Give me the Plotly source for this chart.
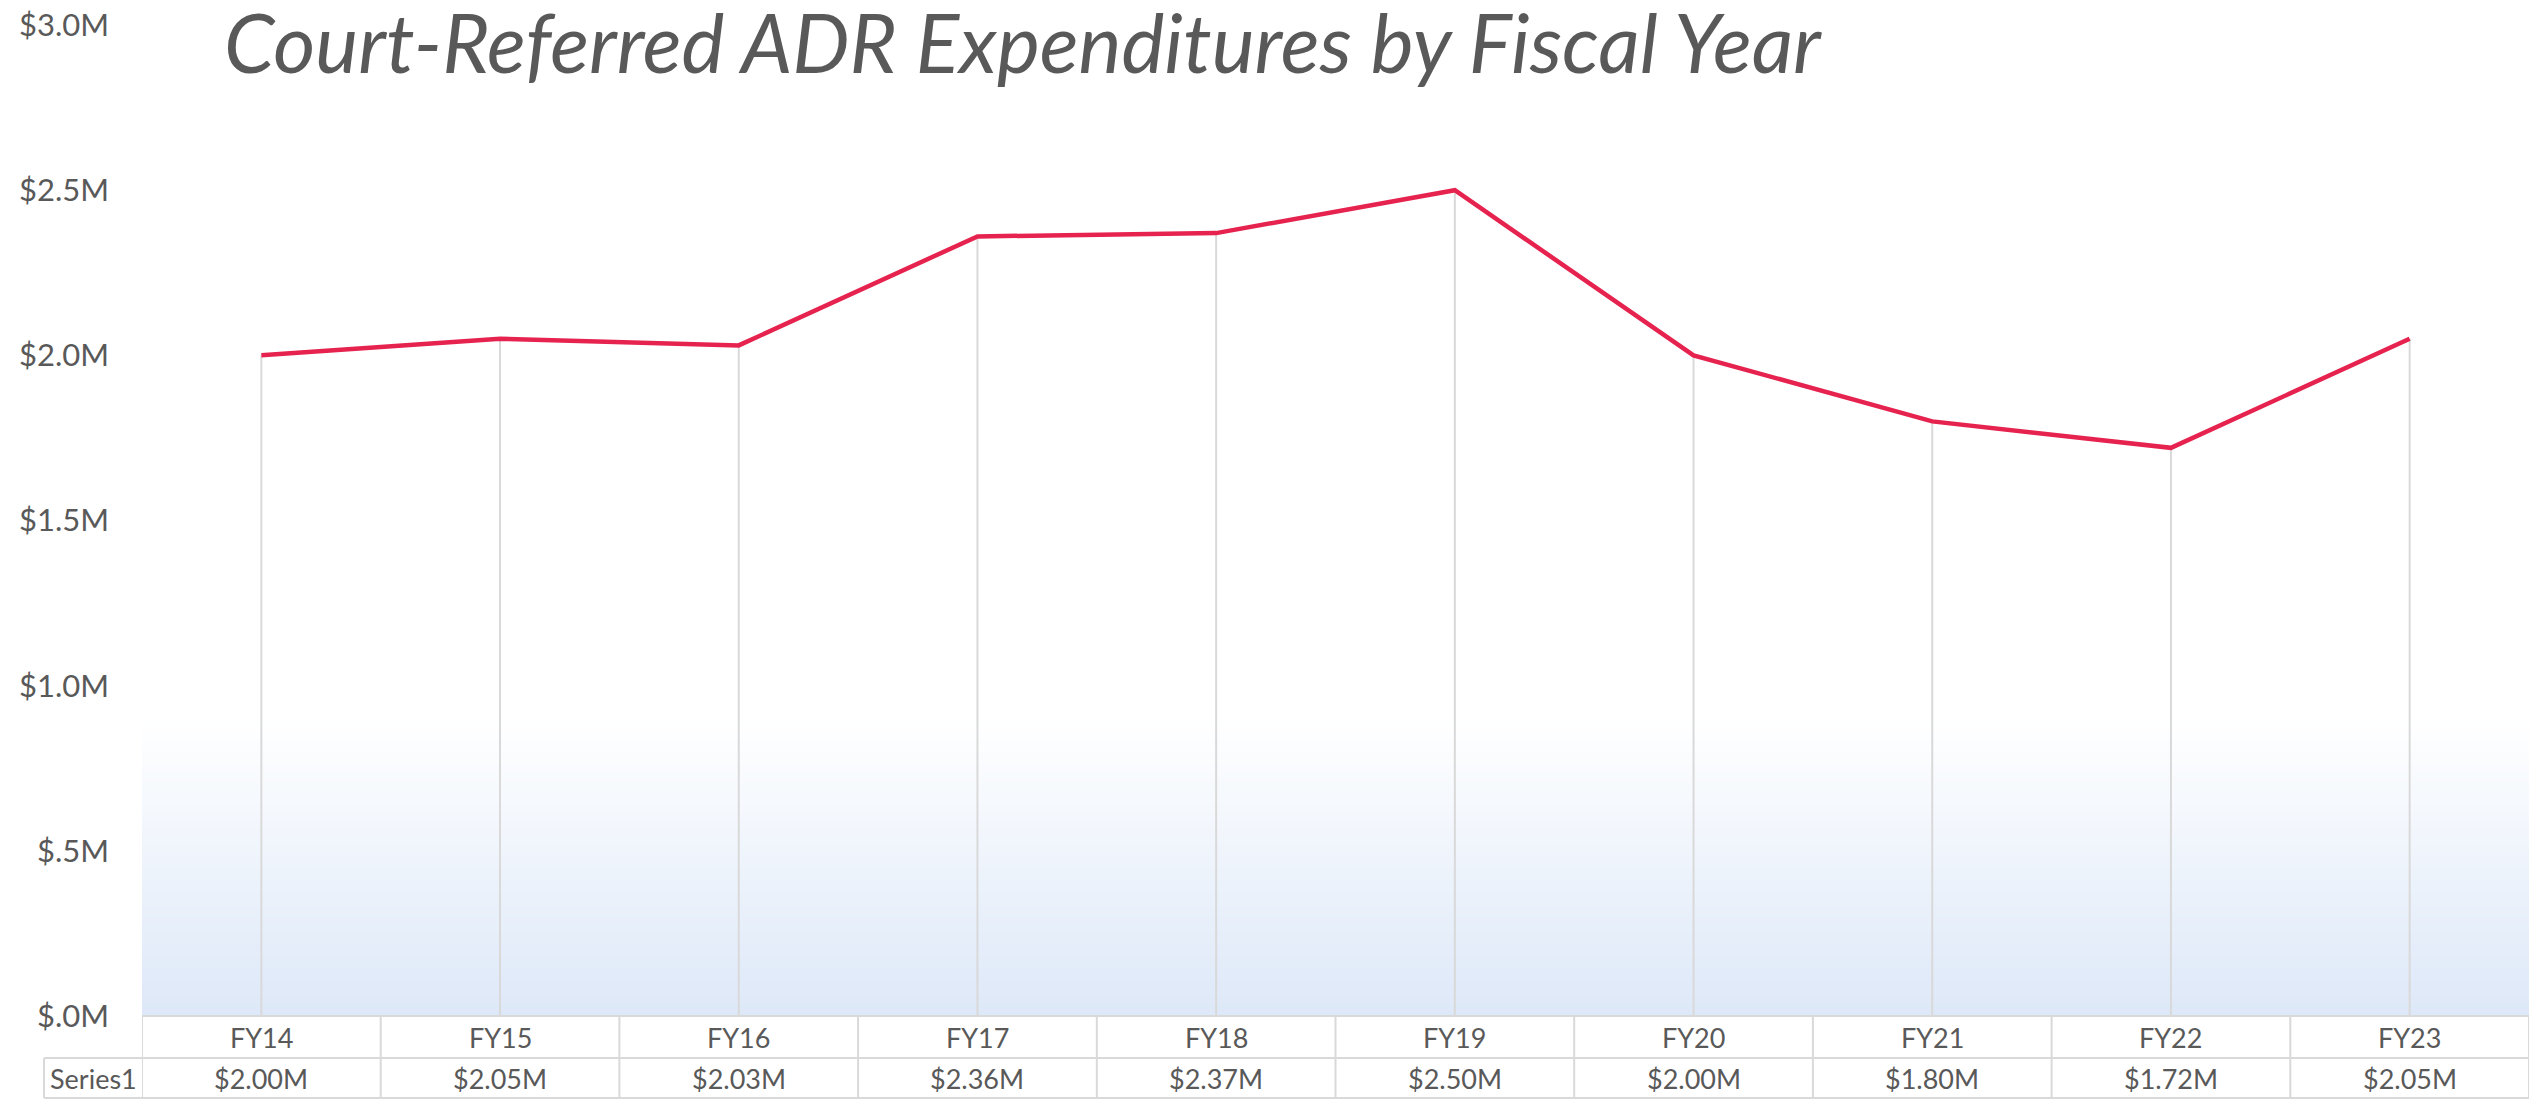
import plotly.graph_objects as go

# ---------------- data ----------------
categories = ["FY14", "FY15", "FY16", "FY17", "FY18", "FY19", "FY20", "FY21", "FY22", "FY23"]
values_m = [2.00, 2.05, 2.03, 2.36, 2.37, 2.50, 2.00, 1.80, 1.72, 2.05]   # $ millions
series_name = "Series1"
y_tick_vals = [0.0, 0.5, 1.0, 1.5, 2.0, 2.5, 3.0]
y_tick_text = ["$.0M", "$.5M", "$1.0M", "$1.5M", "$2.0M", "$2.5M", "$3.0M"]
title_text = "Court-Referred ADR Expenditures by Fiscal Year"

# ---------------- layout constants ----------------
W, H = 2534, 1103
L, R, T, B = 142, 5, 25, 87
PW, PH = W - L - R, H - T - B
FONT = "Lato"
GREY_TXT = "#595959"
BORDER = "#D9D9D9"
LINE_RED = "#E6234F"

def py(pix_y):
    """pixel y (from top of image) -> paper y"""
    return (H - B - pix_y) / PH

def px(pix_x):
    return (pix_x - L) / PW

n = len(categories)
idx = list(range(n))

fig = go.Figure()

# drop lines from each point down to the axis
fig.add_trace(go.Scatter(
    x=idx, y=values_m, mode="markers",
    marker=dict(size=1, color="rgba(0,0,0,0)"),
    error_y=dict(type="data", symmetric=False, array=[0] * n, arrayminus=values_m,
                 color=BORDER, thickness=2, width=0),
    hoverinfo="skip", showlegend=False,
))

# main series line
fig.add_trace(go.Scatter(
    x=idx, y=values_m, mode="lines", name=series_name,
    line=dict(color=LINE_RED, width=4.5),
    showlegend=False,
))

shapes = []
# gradient background in lower part of plot area
bands = 70
g_top = 0.30
c_bot = (221, 232, 248)
for i in range(bands):
    t0 = i / bands
    t1 = (i + 1) / bands
    f = 1 - (t0 + t1) / 2  # 1 at bottom, 0 at top
    r = round(255 + (c_bot[0] - 255) * f)
    g = round(255 + (c_bot[1] - 255) * f)
    b = round(255 + (c_bot[2] - 255) * f)
    shapes.append(dict(type="rect", xref="x domain", yref="y domain",
                       x0=0, x1=1, y0=g_top * t0, y1=g_top * t1 + 0.002,
                       fillcolor=f"rgb({r},{g},{b})", line=dict(width=0), layer="below"))

# data table under the chart
row1_top, row1_bot, row2_bot = 1016, 1058, 1098
series_left = 44
line_style = dict(color=BORDER, width=2)
shapes.append(dict(type="line", xref="paper", yref="paper", x0=0, x1=1,
                   y0=py(row1_top), y1=py(row1_top), line=line_style))
shapes.append(dict(type="line", xref="paper", yref="paper", x0=px(series_left), x1=1,
                   y0=py(row1_bot), y1=py(row1_bot), line=line_style))
shapes.append(dict(type="line", xref="paper", yref="paper", x0=px(series_left), x1=1,
                   y0=py(row2_bot), y1=py(row2_bot), line=line_style))
for k in range(n + 1):
    shapes.append(dict(type="line", xref="x", yref="paper", x0=k - 0.5, x1=k - 0.5,
                       y0=py(row1_top), y1=py(row2_bot), line=line_style))
shapes.append(dict(type="line", xref="paper", yref="paper", x0=px(series_left), x1=px(series_left),
                   y0=py(row1_bot), y1=py(row2_bot), line=line_style))

annotations = []
tfont = dict(family=FONT, size=27, color=GREY_TXT)
for i, (c, v) in enumerate(zip(categories, values_m)):
    annotations.append(dict(x=i, y=py((row1_top + row1_bot) / 2), xref="x", yref="paper",
                            text=c, showarrow=False, font=tfont,
                            xanchor="center", yanchor="middle"))
    annotations.append(dict(x=i, y=py((row1_bot + row2_bot) / 2), xref="x", yref="paper",
                            text=f"${v:.2f}M", showarrow=False, font=tfont,
                            xanchor="center", yanchor="middle"))
annotations.append(dict(x=px((series_left + L) / 2), y=py((row1_bot + row2_bot) / 2),
                        xref="paper", yref="paper", text=series_name, showarrow=False,
                        font=tfont, xanchor="center", yanchor="middle"))

fig.update_layout(
    width=W, height=H,
    margin=dict(l=L, r=R, t=T, b=B, pad=0),
    paper_bgcolor="white", plot_bgcolor="white",
    title=dict(text=title_text, x=224 / W, xanchor="left", xref="container",
               y=1 - 45 / H, yanchor="middle", yref="container",
               font=dict(family=FONT, size=81, color=GREY_TXT, style="italic")),
    xaxis=dict(range=[-0.5, n - 0.5], showgrid=False, zeroline=False,
               showticklabels=False, showline=False, ticks=""),
    yaxis=dict(range=[0, 3.0], tickvals=y_tick_vals, ticktext=y_tick_text,
               showgrid=False, zeroline=False, showline=False, ticks="",
               ticklabelstandoff=32,
               tickfont=dict(family=FONT, size=31, color=GREY_TXT)),
    shapes=shapes,
    annotations=annotations,
    showlegend=False,
)

fig.write_html(
    "out.html",
    config={"displayModeBar": False},
    post_script="document.body.style.margin='0';document.body.style.overflow='hidden';",
)
